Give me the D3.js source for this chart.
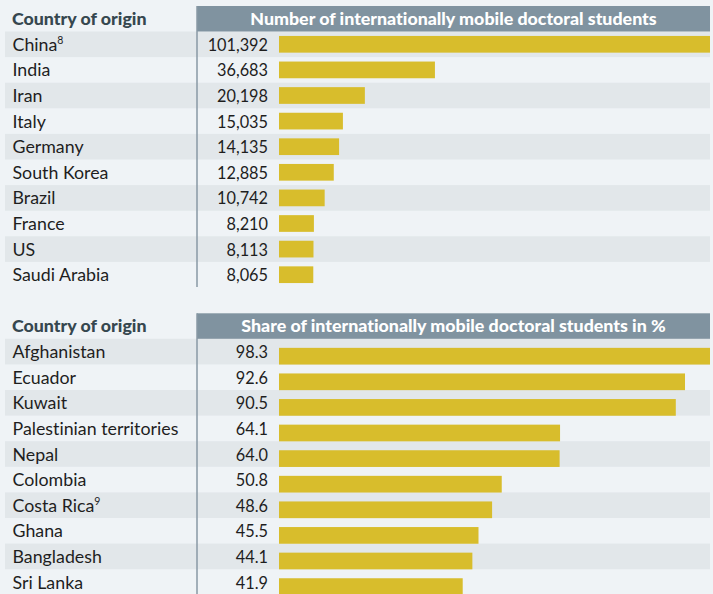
<!DOCTYPE html>
<html><head><meta charset="utf-8">
<script src="https://cdn.jsdelivr.net/npm/d3@7"></script>
<style>
html,body{margin:0;padding:0;background:#eff3f6;}
svg{display:block;font-family:Lato,"Noto Sans",sans-serif;font-variant-ligatures:none;font-feature-settings:"liga" 0;}
</style></head>
<body><svg id="c" width="713" height="594"></svg>
<script>
const countries1 = ["China","India","Iran","Italy","Germany","South Korea","Brazil","France","US","Saudi Arabia"];
const notes1 = ["8","","","","","","","","",""];
const values1 = [101392,36683,20198,15035,14135,12885,10742,8210,8113,8065];
const countries2 = ["Afghanistan","Ecuador","Kuwait","Palestinian territories","Nepal","Colombia","Costa Rica","Ghana","Bangladesh","Sri Lanka"];
const notes2 = ["","","","","","","9","","",""];
const values2 = [98.3,92.6,90.5,64.1,64.0,50.8,48.6,45.5,44.1,41.9];
const header1 = "Number of internationally mobile doctoral students";
const header2 = "Share of internationally mobile doctoral students in %";
const colHeader = "Country of origin";

const svg = d3.select("#c");
const rowH = 25.6;
const BAR = "#d8bd2c", STRIPE = "#e2e7ea", HEAD = "#8093a0", DARK = "#36474f";

function panel(top, countries, notes, values, header, fmt, barShift, lineBottom) {
  const g = svg.append("g");
  const rowsTop = top + 25.5;
  const y = d3.scaleBand().domain(d3.range(countries.length))
    .range([rowsTop, rowsTop + rowH * countries.length]).padding(0);
  const x = d3.scaleLinear().domain([0, d3.max(values)]).range([279, 710]);
  g.selectAll("rect.s").data(countries.map((c,i)=>i).filter(i=>i%2===0)).join("rect")
    .attr("x", 5).attr("width", 705).attr("y", i=>y(i)).attr("height", y.bandwidth()).attr("fill", STRIPE);
  g.append("rect").attr("x",197).attr("y",top).attr("width",513).attr("height",25.5).attr("fill",HEAD);
  g.append("text").attr("x",453.5).attr("y",top+18.8).attr("text-anchor","middle")
    .attr("fill","#fff").attr("font-weight","900").attr("font-size",17.8).text(header);
  g.append("text").attr("x",12).attr("y",top+18.8).attr("fill",DARK)
    .attr("font-weight","900").attr("font-size",17.8).text(colHeader);
  g.append("line").attr("x1",197).attr("x2",197).attr("y1",top).attr("y2",lineBottom)
    .attr("stroke","#8899a4").attr("stroke-width",1.5);
  g.selectAll("rect.b").data(values).join("rect")
    .attr("x", x(0)).attr("width", d=>x(d)-x(0))
    .attr("y", (d,i)=>y(i)+ (y.bandwidth()-16.7)/2 + barShift).attr("height",16.7).attr("fill",BAR);
  const lab = g.selectAll("text.l").data(countries).join("text")
    .attr("x",12.5).attr("y",(d,i)=>y(i)+y.bandwidth()/2+6.5).attr("fill","#1e1e1e").attr("font-size",17.8);
  lab.append("tspan").text(d=>d);
  lab.append("tspan").attr("font-size",10.5).attr("dy",-6.5).text((d,i)=>notes[i]);
  g.selectAll("text.v").data(values).join("text")
    .attr("x",268).attr("y",(d,i)=>y(i)+y.bandwidth()/2+6.5).attr("text-anchor","end")
    .attr("fill","#1e1e1e").attr("font-size",16.3).text(d=>fmt(d));
}
panel(6, countries1, notes1, values1, header1, d3.format(",d"), 0, 287);
panel(313.3, countries2, notes2, values2, header2, d3.format(".1f"), 4.6, 594);
</script></body></html>
